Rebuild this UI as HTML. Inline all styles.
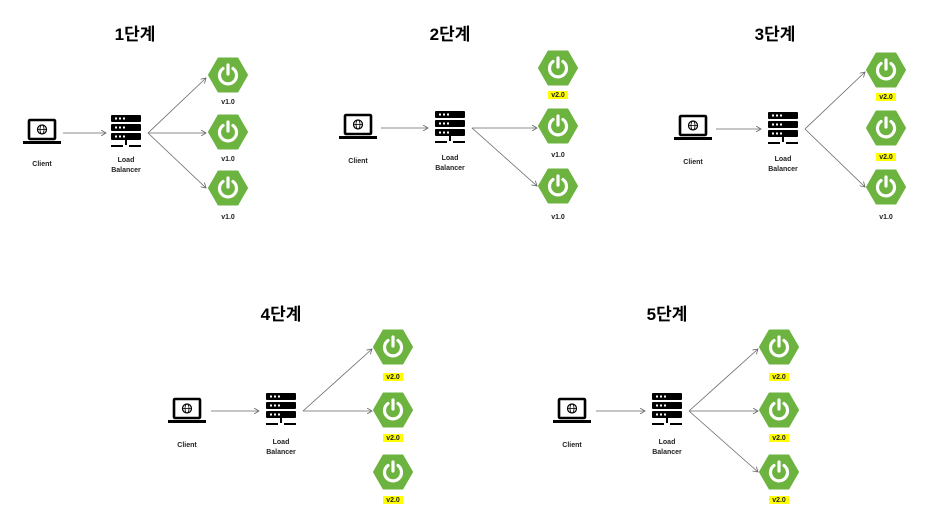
<!DOCTYPE html>
<html><head><meta charset="utf-8"><style>
html,body{margin:0;padding:0;background:#fff;}
svg{display:block;}
text{font-family:"Liberation Sans","Noto Sans CJK KR",sans-serif;}
.t{font-size:17px;font-weight:bold;text-anchor:middle;fill:#000;}
.s{font-size:7px;font-weight:bold;text-anchor:middle;fill:#222;}
.a{stroke:#666;stroke-width:0.8;fill:none;marker-end:url(#ar);}
</style></head><body>
<svg width="938" height="532" viewBox="0 0 938 532" xmlns="http://www.w3.org/2000/svg">
<defs>
<marker id="ar" markerWidth="6" markerHeight="6" refX="5" refY="3" orient="auto" markerUnits="userSpaceOnUse"><path d="M0,0 L5,3 L0,6" fill="none" stroke="#666" stroke-width="0.8"/></marker>
<g id="hex">
<polygon points="-19,0 -9.5,-16.5 9.5,-16.5 19,0 9.5,16.5 -9.5,16.5" fill="#6db33f" stroke="#6db33f" stroke-width="2" stroke-linejoin="round"/>
<path d="M-5,-6.5 A8.5,8.5 0 1 0 5,-6.5" fill="none" stroke="#fff" stroke-width="3.2" stroke-linecap="round"/>
<line x1="0" y1="-10" x2="0" y2="-1" stroke="#fff" stroke-width="3.2" stroke-linecap="round"/>
</g>
<g id="lap">
<rect x="-13" y="-11" width="26" height="19" rx="1" fill="none" stroke="#000" stroke-width="2.6"/>
<circle cx="0" cy="-1.5" r="4.5" fill="none" stroke="#000" stroke-width="1.2"/>
<ellipse cx="0" cy="-1.5" rx="2" ry="4.5" fill="none" stroke="#000" stroke-width="0.8"/>
<line x1="-4.5" y1="-1.5" x2="4.5" y2="-1.5" stroke="#000" stroke-width="0.8"/>
<rect x="-19" y="10" width="38" height="3" fill="#000"/>
</g>
<g id="srv">
<rect x="-15" y="-15" width="30" height="7" rx="1" fill="#000"/>
<rect x="-15" y="-6" width="30" height="7" rx="1" fill="#000"/>
<rect x="-15" y="3" width="30" height="7" rx="1" fill="#000"/>
<g fill="#fff"><rect x="-11" y="-12.5" width="2" height="2"/><rect x="-7" y="-12.5" width="2" height="2"/><rect x="-3" y="-12.5" width="2" height="2"/>
<rect x="-11" y="-3.5" width="2" height="2"/><rect x="-7" y="-3.5" width="2" height="2"/><rect x="-3" y="-3.5" width="2" height="2"/>
<rect x="-11" y="5.5" width="2" height="2"/><rect x="-7" y="5.5" width="2" height="2"/><rect x="-3" y="5.5" width="2" height="2"/></g>
<rect x="-1" y="10" width="2" height="5" fill="#000"/>
<rect x="-15" y="15" width="12" height="2" fill="#000"/><rect x="3" y="15" width="12" height="2" fill="#000"/>
</g>
</defs>

<!-- Panel 1 -->
<text class="t" x="135" y="40">1단계</text>
<use href="#lap" x="42" y="131"/><text class="s" x="42" y="166">Client</text>
<use href="#srv" x="126" y="130"/><text class="s" x="126" y="162">Load</text><text class="s" x="126" y="172">Balancer</text>
<line class="a" x1="63" y1="133" x2="106" y2="133"/>
<use href="#hex" x="228" y="75"/><use href="#hex" x="228" y="132"/><use href="#hex" x="228" y="188"/>
<text class="s" x="228" y="104">v1.0</text><text class="s" x="228" y="161">v1.0</text><text class="s" x="228" y="219">v1.0</text>
<line class="a" x1="148" y1="133" x2="206" y2="78"/><line class="a" x1="148" y1="133" x2="206" y2="133"/><line class="a" x1="148" y1="133" x2="206" y2="188"/>

<!-- Panel 2 -->
<text class="t" x="450" y="40">2단계</text>
<use href="#lap" x="358" y="126"/><text class="s" x="358" y="163">Client</text>
<use href="#srv" x="450" y="126"/><text class="s" x="450" y="160">Load</text><text class="s" x="450" y="170">Balancer</text>
<line class="a" x1="381" y1="128" x2="428" y2="128"/>
<use href="#hex" x="558" y="68"/><use href="#hex" x="558" y="126"/><use href="#hex" x="558" y="186"/>
<rect x="548" y="91" width="20" height="8" fill="#ffff00"/>
<text class="s" x="558" y="97">v2.0</text><text class="s" x="558" y="157">v1.0</text><text class="s" x="558" y="219">v1.0</text>
<line class="a" x1="472" y1="128" x2="537" y2="128"/><line class="a" x1="472" y1="128" x2="537" y2="186"/>

<!-- Panel 3 -->
<text class="t" x="775" y="40">3단계</text>
<use href="#lap" x="693" y="127"/><text class="s" x="693" y="164">Client</text>
<use href="#srv" x="783" y="127"/><text class="s" x="783" y="161">Load</text><text class="s" x="783" y="171">Balancer</text>
<line class="a" x1="716" y1="129" x2="761" y2="129"/>
<use href="#hex" x="886" y="70"/><use href="#hex" x="886" y="128"/><use href="#hex" x="886" y="187"/>
<rect x="876" y="93" width="20" height="8" fill="#ffff00"/><rect x="876" y="153" width="20" height="8" fill="#ffff00"/>
<text class="s" x="886" y="99">v2.0</text><text class="s" x="886" y="159">v2.0</text><text class="s" x="886" y="219">v1.0</text>
<line class="a" x1="805" y1="129" x2="865" y2="72"/><line class="a" x1="805" y1="129" x2="865" y2="187"/>

<!-- Panel 4 -->
<text class="t" x="281" y="320">4단계</text>
<use href="#lap" x="187" y="410"/><text class="s" x="187" y="447">Client</text>
<use href="#srv" x="281" y="408"/><text class="s" x="281" y="444">Load</text><text class="s" x="281" y="454">Balancer</text>
<line class="a" x1="211" y1="411" x2="259" y2="411"/>
<use href="#hex" x="393" y="347"/><use href="#hex" x="393" y="410"/><use href="#hex" x="393" y="472"/>
<rect x="383" y="373" width="20" height="8" fill="#ffff00"/><rect x="383" y="434" width="20" height="8" fill="#ffff00"/><rect x="383" y="496" width="20" height="8" fill="#ffff00"/>
<text class="s" x="393" y="379">v2.0</text><text class="s" x="393" y="440">v2.0</text><text class="s" x="393" y="502">v2.0</text>
<line class="a" x1="303" y1="411" x2="372" y2="349"/><line class="a" x1="303" y1="411" x2="372" y2="411"/>

<!-- Panel 5 -->
<text class="t" x="667" y="320">5단계</text>
<use href="#lap" x="572" y="410"/><text class="s" x="572" y="447">Client</text>
<use href="#srv" x="667" y="408"/><text class="s" x="667" y="444">Load</text><text class="s" x="667" y="454">Balancer</text>
<line class="a" x1="596" y1="411" x2="645" y2="411"/>
<use href="#hex" x="779" y="347"/><use href="#hex" x="779" y="410"/><use href="#hex" x="779" y="472"/>
<rect x="769" y="373" width="20" height="8" fill="#ffff00"/><rect x="769" y="434" width="20" height="8" fill="#ffff00"/><rect x="769" y="496" width="20" height="8" fill="#ffff00"/>
<text class="s" x="779" y="379">v2.0</text><text class="s" x="779" y="440">v2.0</text><text class="s" x="779" y="502">v2.0</text>
<line class="a" x1="689" y1="411" x2="758" y2="349"/><line class="a" x1="689" y1="411" x2="758" y2="411"/><line class="a" x1="689" y1="411" x2="758" y2="472"/>
</svg>
</body></html>
